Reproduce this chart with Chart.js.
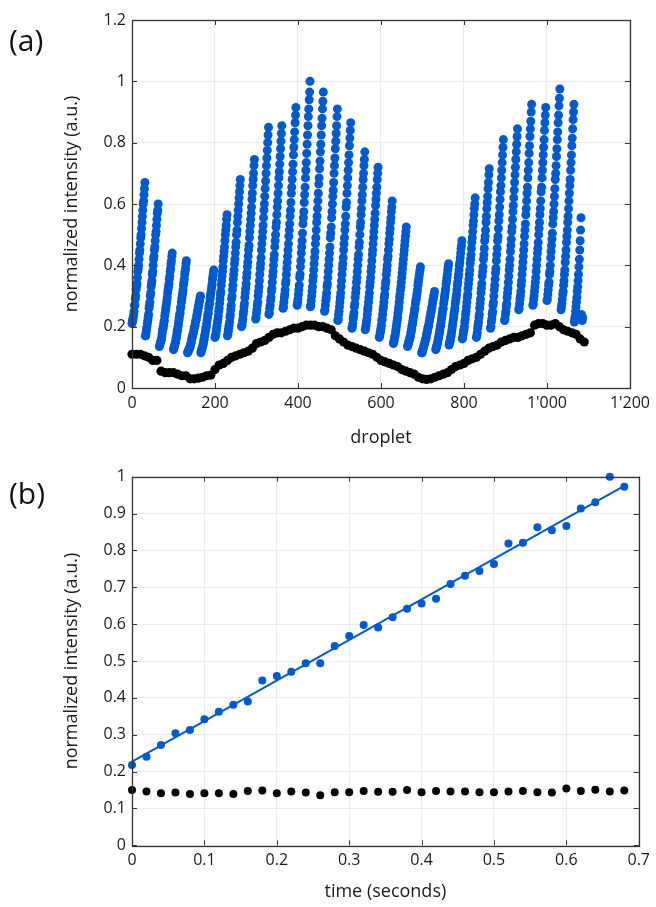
<!DOCTYPE html>
<html>
<head>
<meta charset="utf-8">
<script src="https://cdn.jsdelivr.net/npm/chart.js@4.4.0/dist/chart.umd.min.js"></script>
<style>
  body { margin: 0; background: #fff; width: 656px; height: 907px; position: relative; overflow: hidden; font-family: 'Open Sans', sans-serif; }
  canvas { position: absolute; left: 0; }
  .tag { position: absolute; left: 9px; font-size: 30px; line-height: 36px; color: #111; z-index: 2; }
</style>
</head>
<body>
<canvas id="chartA" width="656" height="455" style="top:0"></canvas>
<canvas id="chartB" width="656" height="447" style="top:460px"></canvas>
<div class="tag" style="top:22px">(a)</div>
<div class="tag" style="top:475px">(b)</div>
<script>
// (a) blue: one sawtooth streak per period, one value per droplet from the streak start
const streakStart = [0, 32, 66, 100, 134, 166, 200, 230, 264, 298, 330, 364, 398, 430, 464, 496, 530,
  562, 596, 630, 664, 698, 732, 764, 796, 830, 864, 898, 932, 966, 1000, 1034, 1066];
const streakIntensity = [
  [.21,.22,.22,.23,.24,.25,.27,.27,.29,.3,.32,.33,.34,.36,.38,.39,.4,.42,.44,.45,.47,.49,.5,.52,.54,.56,.58,.6,.61,.63,.65,.67],
  [.17,.17,.18,.19,.2,.21,.22,.23,.24,.26,.27,.28,.3,.31,.33,.34,.35,.37,.38,.4,.42,.43,.45,.46,.48,.5,.51,.53,.55,.57,.58,.6],
  [.135,.14,.145,.15,.155,.16,.17,.18,.19,.195,.205,.215,.22,.235,.245,.255,.265,.275,.285,.295,.31,.32,.33,.34,.355,.365,.38,.39,.405,.415,.43,.44],
  [.125,.13,.135,.14,.145,.15,.16,.165,.175,.185,.19,.2,.21,.22,.23,.24,.245,.26,.265,.28,.29,.3,.31,.32,.335,.345,.355,.37,.38,.39,.405,.415],
  [.115,.12,.12,.125,.13,.13,.135,.14,.145,.15,.16,.165,.17,.175,.18,.185,.195,.2,.205,.215,.22,.225,.235,.24,.25,.255,.265,.27,.28,.285,.295,.3],
  [.115,.12,.125,.13,.135,.14,.145,.155,.16,.17,.175,.185,.195,.2,.21,.22,.23,.24,.245,.26,.27,.275,.29,.3,.31,.32,.33,.34,.355,.365,.375,.385],
  [.165,.17,.175,.185,.195,.205,.215,.225,.235,.25,.26,.275,.29,.305,.315,.335,.35,.365,.38,.395,.415,.43,.445,.46,.48,.5,.515,.53,.55,.565],
  [.17,.175,.185,.195,.205,.215,.23,.24,.255,.27,.29,.3,.32,.335,.355,.37,.385,.405,.42,.44,.46,.475,.5,.515,.54,.56,.58,.6,.62,.64,.66,.68],
  [.2,.205,.215,.225,.24,.25,.265,.275,.295,.31,.325,.34,.36,.375,.395,.41,.43,.45,.465,.49,.51,.53,.55,.57,.59,.615,.635,.66,.68,.7,.725,.745],
  [.225,.23,.245,.255,.27,.28,.3,.315,.33,.35,.37,.39,.405,.425,.45,.47,.49,.51,.53,.555,.58,.6,.625,.65,.675,.7,.725,.75,.775,.8,.825,.85],
  [.24,.245,.26,.27,.285,.295,.315,.325,.345,.365,.38,.4,.42,.435,.46,.48,.5,.525,.54,.565,.59,.61,.635,.66,.685,.705,.73,.755,.78,.805,.83,.855],
  [.26,.265,.28,.295,.305,.32,.34,.35,.37,.39,.41,.43,.45,.47,.495,.515,.535,.56,.58,.605,.635,.655,.68,.705,.73,.76,.785,.81,.835,.865,.89,.915],
  [.27,.28,.29,.305,.32,.335,.36,.37,.395,.415,.44,.46,.48,.505,.535,.555,.575,.605,.63,.655,.685,.71,.735,.765,.795,.825,.855,.885,.91,.94,.965,1],
  [.265,.27,.285,.3,.315,.33,.35,.365,.385,.405,.425,.445,.47,.49,.515,.54,.56,.585,.61,.635,.665,.685,.715,.74,.77,.795,.825,.855,.88,.91,.935,.965],
  [.25,.255,.27,.285,.295,.31,.33,.34,.36,.38,.4,.42,.44,.46,.49,.505,.525,.555,.575,.6,.625,.645,.67,.7,.725,.75,.78,.805,.83,.855,.885,.91],
  [.22,.225,.24,.25,.265,.28,.295,.31,.33,.35,.37,.39,.405,.425,.45,.47,.49,.515,.535,.56,.59,.605,.635,.66,.685,.71,.735,.76,.79,.815,.84,.865],
  [.195,.2,.21,.225,.235,.245,.265,.275,.295,.31,.325,.345,.36,.38,.4,.42,.435,.46,.475,.5,.525,.54,.565,.585,.61,.63,.655,.68,.7,.725,.745,.77],
  [.19,.195,.205,.215,.225,.24,.255,.265,.28,.295,.31,.33,.345,.36,.38,.395,.415,.435,.45,.47,.49,.51,.53,.55,.57,.595,.615,.635,.655,.68,.7,.72],
  [.165,.17,.18,.185,.195,.205,.22,.225,.24,.255,.265,.28,.295,.305,.325,.34,.35,.37,.385,.4,.42,.43,.45,.47,.485,.505,.52,.54,.555,.575,.59,.61],
  [.145,.15,.155,.165,.17,.18,.19,.2,.21,.22,.23,.245,.255,.265,.28,.295,.305,.32,.33,.345,.36,.375,.39,.405,.42,.435,.45,.465,.48,.495,.51,.525],
  [.135,.14,.145,.15,.155,.16,.165,.17,.18,.185,.195,.205,.21,.22,.23,.235,.245,.255,.26,.275,.285,.29,.3,.31,.32,.335,.345,.355,.365,.375,.385,.395],
  [.115,.115,.12,.125,.13,.135,.14,.145,.15,.155,.16,.165,.175,.18,.185,.195,.2,.205,.215,.22,.23,.235,.245,.25,.26,.265,.275,.285,.29,.3,.305,.315],
  [.125,.13,.135,.14,.145,.15,.16,.165,.175,.18,.19,.2,.205,.215,.225,.235,.245,.255,.26,.275,.285,.295,.305,.315,.325,.34,.35,.36,.37,.385,.395,.405],
  [.14,.145,.15,.155,.165,.17,.18,.19,.2,.21,.22,.23,.24,.25,.26,.275,.285,.295,.305,.32,.335,.345,.36,.37,.385,.4,.41,.425,.44,.455,.465,.48],
  [.16,.165,.175,.185,.19,.2,.215,.225,.24,.25,.265,.28,.295,.305,.325,.34,.355,.37,.385,.405,.42,.435,.455,.475,.49,.51,.53,.545,.565,.585,.6,.62],
  [.165,.17,.18,.195,.205,.215,.23,.24,.26,.275,.29,.31,.325,.34,.365,.38,.395,.42,.435,.455,.48,.495,.515,.54,.56,.585,.605,.625,.65,.67,.695,.715],
  [.195,.2,.215,.225,.24,.25,.27,.28,.3,.32,.335,.355,.375,.39,.415,.435,.455,.48,.495,.52,.545,.565,.59,.615,.64,.66,.685,.71,.735,.76,.785,.81],
  [.22,.225,.24,.25,.265,.275,.295,.31,.325,.345,.365,.385,.4,.42,.445,.465,.485,.51,.525,.55,.575,.595,.62,.645,.67,.695,.72,.745,.77,.795,.82,.845],
  [.255,.26,.275,.29,.3,.315,.335,.35,.37,.39,.41,.43,.45,.47,.495,.515,.535,.565,.585,.61,.635,.655,.685,.71,.735,.765,.79,.82,.845,.87,.9,.925],
  [.27,.275,.29,.3,.315,.33,.345,.36,.38,.4,.42,.44,.455,.475,.5,.52,.54,.565,.585,.61,.64,.655,.685,.71,.735,.76,.785,.81,.84,.865,.89,.915],
  [.285,.29,.305,.32,.335,.345,.37,.38,.4,.425,.445,.465,.485,.505,.535,.555,.575,.6,.625,.65,.68,.7,.725,.755,.78,.81,.835,.865,.89,.92,.945,.975],
  [.255,.265,.275,.29,.305,.315,.335,.35,.37,.385,.41,.43,.45,.475,.495,.515,.54,.56,.585,.61,.635,.66,.68,.71,.735,.76,.79,.815,.845,.875,.9,.925],
  [.215,.225,.235,.25,.265,.28,.295,.315,.33,.35,.37,.395,.42,.45,.48,.515,.555,.24,.225,.22,.23]
];

// (a) black: reference intensity, one value every 10 droplets
const blackStep = 10;
const blackIntensity = [
  0.11,0.11,0.11,0.105,0.1,0.09,0.09,0.055,0.05,0.05,
  0.05,0.045,0.04,0.04,0.03,0.03,0.032,0.035,0.04,0.042,
  0.06,0.075,0.08,0.09,0.1,0.105,0.11,0.115,0.12,0.13,
  0.145,0.15,0.155,0.165,0.175,0.18,0.18,0.185,0.19,0.195,
  0.195,0.2,0.205,0.205,0.205,0.2,0.2,0.195,0.19,0.17,
  0.16,0.15,0.14,0.135,0.13,0.125,0.12,0.115,0.11,0.1,
  0.09,0.085,0.08,0.075,0.07,0.06,0.055,0.05,0.045,0.035,
  0.03,0.028,0.03,0.035,0.04,0.045,0.05,0.06,0.07,0.075,
  0.08,0.09,0.095,0.1,0.11,0.12,0.13,0.135,0.14,0.15,
  0.155,0.16,0.165,0.165,0.17,0.175,0.18,0.205,0.21,0.21,
  0.205,0.205,0.21,0.2,0.19,0.185,0.18,0.175,0.16,0.15
];

// (b) time series
const timeSeconds = [0,0.02,0.04,0.06,0.08,0.1,0.12,0.14,0.16,0.18,0.2,0.22,0.24,0.26,0.28,0.3,0.32,0.34,
  0.36,0.38,0.4,0.42,0.44,0.46,0.48,0.5,0.52,0.54,0.56,0.58,0.6,0.62,0.64,0.66,0.68];
const timeBlue = [0.218,0.24,0.272,0.304,0.313,0.342,0.362,0.381,0.39,0.447,0.459,0.471,0.494,0.494,0.541,
  0.568,0.598,0.591,0.619,0.642,0.656,0.669,0.709,0.731,0.744,0.763,0.819,0.821,0.863,0.855,0.866,0.914,
  0.931,1.0,0.973];
const timeBlack = [0.15,0.146,0.141,0.143,0.139,0.141,0.141,0.139,0.147,0.149,0.141,0.146,0.143,0.136,0.144,
  0.144,0.147,0.145,0.145,0.15,0.144,0.147,0.146,0.146,0.144,0.144,0.146,0.147,0.144,0.143,0.154,0.147,
  0.151,0.146,0.149];
const fitTime = [0, 0.68];
const fitValue = [0.227, 0.975];

const BLUE = 'rgb(0,90,204)';
const AXIS = '#333';
Chart.defaults.font.family = "'Open Sans', sans-serif";
Chart.defaults.color = '#1a1a1a';

const bluePoints = [];
streakStart.forEach((start, s) => {
  streakIntensity[s].forEach((v, i) => bluePoints.push({ x: start + i, y: v }));
});
const blackPoints = blackIntensity.map((v, i) => ({ x: i * blackStep, y: v }));

// MATLAB-like box with inward ticks
const boxTicks = {
  id: 'boxTicks',
  afterDatasetsDraw(chart) {
    const { ctx, chartArea: { left, right, top, bottom }, scales: { x, y } } = chart;
    ctx.save();
    ctx.strokeStyle = AXIS;
    ctx.lineWidth = 1;
    ctx.beginPath();
    x.ticks.forEach(t => {
      const px = Math.round(x.getPixelForValue(t.value)) + 0.5;
      ctx.moveTo(px, bottom); ctx.lineTo(px, bottom - 5);
      ctx.moveTo(px, top); ctx.lineTo(px, top + 5);
    });
    y.ticks.forEach(t => {
      const py = Math.round(y.getPixelForValue(t.value)) + 0.5;
      ctx.moveTo(left, py); ctx.lineTo(left + 5, py);
      ctx.moveTo(right, py); ctx.lineTo(right - 5, py);
    });
    ctx.stroke();
    ctx.lineWidth = 1.3;
    ctx.strokeRect(Math.round(left) + 0.5, Math.round(top) + 0.5, Math.round(right - left), Math.round(bottom - top));
    ctx.restore();
  }
};

function thousands(v) {
  return String(v).replace(/\B(?=(\d{3})+(?!\d))/g, "'");
}

function axes(xOpt, yOpt, xHeight, xTitle, xPad) {
  return {
    x: {
      type: 'linear', min: xOpt.min, max: xOpt.max,
      grid: { color: '#ebebeb', drawTicks: false },
      border: { display: false },
      ticks: { stepSize: xOpt.step, padding: 6, maxRotation: 0, autoSkip: false, font: { size: 16 }, callback: xOpt.fmt },
      title: { display: true, text: xTitle, font: { size: 18 }, padding: { bottom: xPad } },
      afterFit: s => { s.height = xHeight; }
    },
    y: {
      type: 'linear', min: yOpt.min, max: yOpt.max,
      grid: { color: '#ebebeb', drawTicks: false },
      border: { display: false },
      ticks: { stepSize: yOpt.step, padding: 6, autoSkip: false, font: { size: 16 }, callback: v => String(+v.toFixed(2)) },
      title: { display: true, text: 'normalized intensity (a.u.)', font: { size: 18 }, padding: { top: 61 } },
      afterFit: s => { s.width = 132; }
    }
  };
}

new Chart(document.getElementById('chartA'), {
  type: 'scatter',
  data: {
    datasets: [
      { data: blackPoints, backgroundColor: '#000', pointRadius: 4.6, borderWidth: 0, clip: false },
      { data: bluePoints, backgroundColor: BLUE, pointRadius: 4.5, borderWidth: 0, clip: false }
    ]
  },
  options: {
    responsive: false, animation: false,
    layout: { padding: { top: 20, right: 24, left: 0, bottom: 0 } },
    plugins: { legend: { display: false }, tooltip: { enabled: false } },
    scales: axes({ min: 0, max: 1200, step: 200, fmt: v => thousands(v) },
                 { min: 0, max: 1.2, step: 0.2 }, 67, 'droplet', 6)
  },
  plugins: [boxTicks]
});

new Chart(document.getElementById('chartB'), {
  type: 'scatter',
  data: {
    datasets: [
      { data: timeSeconds.map((t, i) => ({ x: t, y: timeBlack[i] })), backgroundColor: '#000', pointRadius: 4, borderWidth: 0, clip: false },
      { data: timeSeconds.map((t, i) => ({ x: t, y: timeBlue[i] })), backgroundColor: BLUE, pointRadius: 4, borderWidth: 0, clip: false },
      { data: fitTime.map((t, i) => ({ x: t, y: fitValue[i] })), showLine: true, borderColor: BLUE, borderWidth: 2, pointRadius: 0, clip: false }
    ]
  },
  options: {
    responsive: false, animation: false,
    layout: { padding: { top: 16.7, right: 15, left: 0, bottom: 0 } },
    plugins: { legend: { display: false }, tooltip: { enabled: false } },
    scales: axes({ min: 0, max: 0.7, step: 0.1, fmt: v => String(+v.toFixed(1)) },
                 { min: 0, max: 1, step: 0.1 }, 61.7, 'time (seconds)', 4)
  },
  plugins: [boxTicks]
});
</script>
</body>
</html>
